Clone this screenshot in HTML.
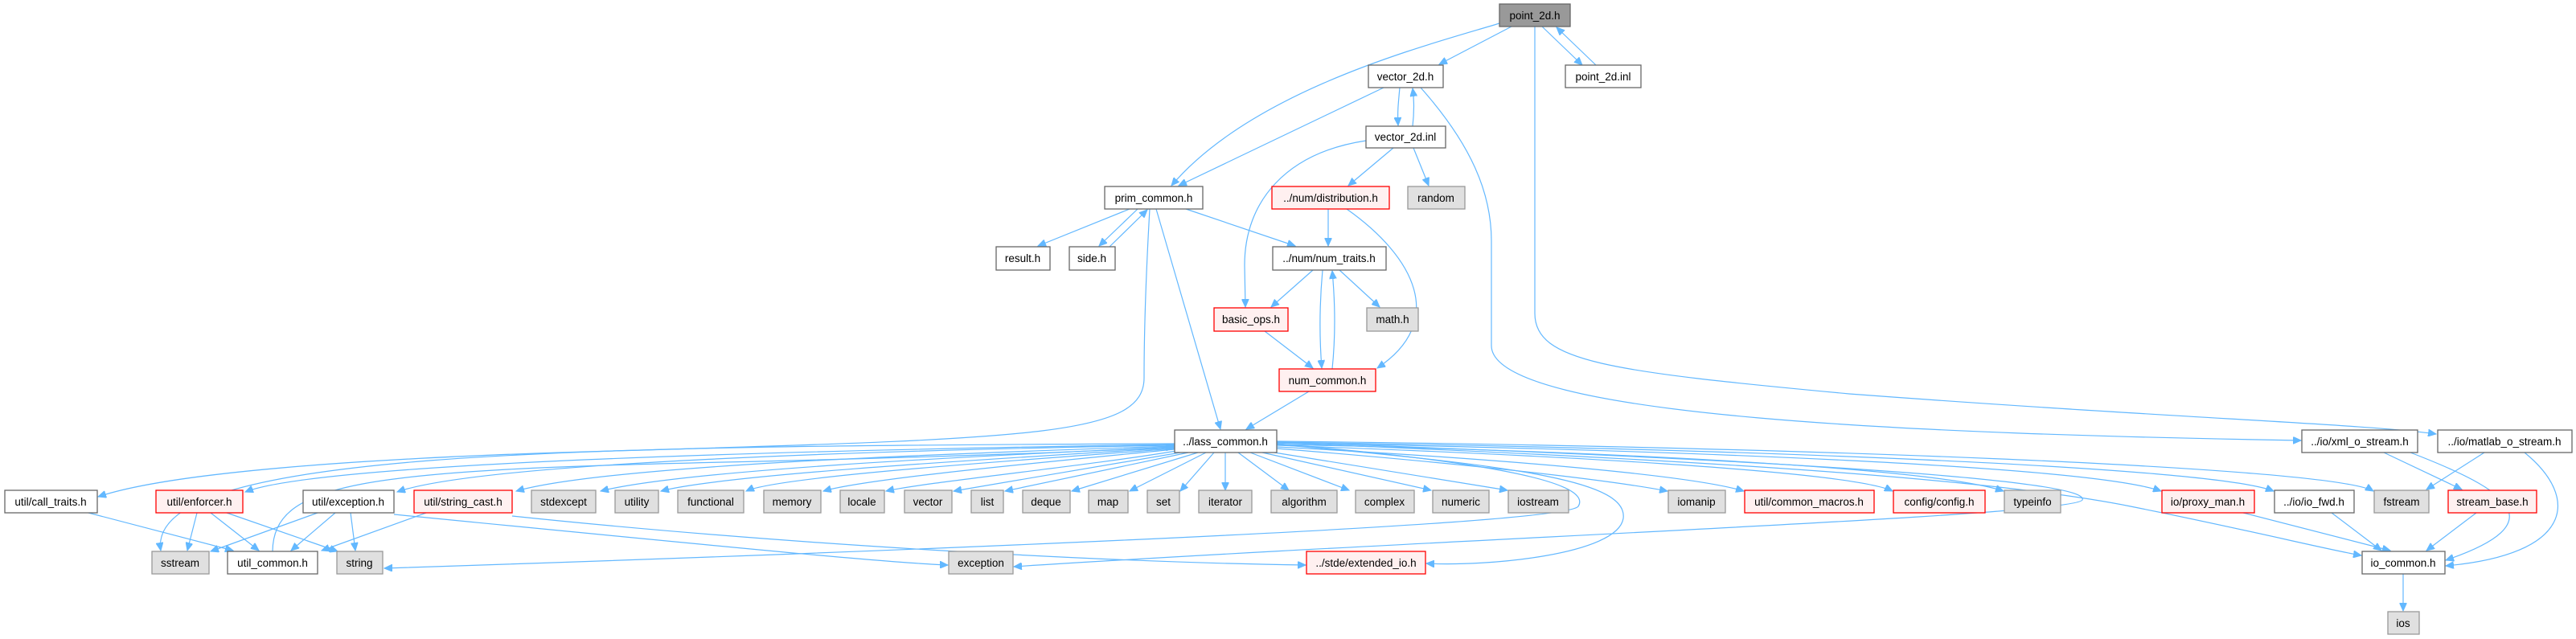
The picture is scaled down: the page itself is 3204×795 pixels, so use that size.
<!DOCTYPE html>
<html><head><meta charset="utf-8"><style>
html,body{margin:0;padding:0;background:#fff;}
svg{display:block;}
text{font-family:"Liberation Sans",sans-serif;font-size:13.5px;fill:#000;text-anchor:middle;}
.w{fill:#fff;stroke:#666;stroke-width:1.3;}
.g{fill:#e0e0e0;stroke:#999;stroke-width:1.3;}
.r{fill:#fff0f0;stroke:#f00;stroke-width:1.3;}
.root{fill:#999;stroke:#666;stroke-width:1.3;}
path{fill:none;stroke:#63b8ff;stroke-width:1.2;marker-end:url(#a);}
</style></head><body>
<svg width="3204" height="795" viewBox="0 0 3204 795" xmlns="http://www.w3.org/2000/svg">
<defs><marker id="a" markerUnits="userSpaceOnUse" markerWidth="11" markerHeight="9" refX="10" refY="4.5" orient="auto"><path d="M0,0 L10,4.5 L0,9 z" style="fill:#63b8ff;stroke:#63b8ff;stroke-width:1;marker-end:none"/></marker></defs>

<!-- edges -->
<path d="M1880,33 L1790,80"/>
<path d="M1918,33 L1968,81"/>
<path d="M1985,81 L1936,34"/>
<path d="M1865,29 C1780,55 1560,110 1457,231"/>
<path d="M1721,109 L1466,231"/>
<path d="M1741,109 C1739,130 1738,140 1739,156"/>
<path d="M1757,157 C1759,140 1759,125 1757,110"/>
<path d="M1767,109 C1830,180 1855,240 1855,300 L1855,430 C1855,520 2400,540 2862,548"/>
<path d="M1909,33 L1909,390 C1909,450 2000,462 2300,490 C2700,520 2950,528 3030,540"/>
<path d="M1733,184 L1677,231"/>
<path d="M1758,184 L1777,231"/>
<path d="M1699,175 C1600,190 1548,250 1548,330 L1549,382"/>
<path d="M1405,260 L1291,306"/>
<path d="M1415,260 L1367,306"/>
<path d="M1380,307 L1427,261"/>
<path d="M1475,260 L1611,306"/>
<path d="M1438,260 L1518,534"/>
<path d="M1430,260 C1426,330 1423,400 1423,470 C1423,540 1300,545 800,560 C400,570 200,592 122,618"/>
<path d="M1652,260 L1652,306"/>
<path d="M1675,260 C1760,320 1800,400 1713,458"/>
<path d="M1633,336 L1581,382"/>
<path d="M1666,336 L1716,382"/>
<path d="M1645,336 C1641,380 1641,420 1644,458"/>
<path d="M1657,459 C1661,420 1661,380 1657,337"/>
<path d="M1573,412 L1633,458"/>
<path d="M1628,487 L1550,534"/>

<!-- lass_common fan -->
<path d="M1461,553 C1000,560 400,575 305,612"/>
<path d="M1461,554 C1100,560 600,575 494,612"/>
<path d="M1461,555 C1150,565 750,580 642,611"/>
<path d="M1461,556 C1200,568 850,585 747,611"/>
<path d="M1461,557 C1250,570 900,590 822,611"/>
<path d="M1461,558 C1280,572 970,592 928,611"/>
<path d="M1461,559 C1300,575 1080,595 1024,611"/>
<path d="M1463,561 C1350,580 1150,600 1102,611"/>
<path d="M1468,563 L1186,611"/>
<path d="M1478,563 L1250,611"/>
<path d="M1490,563 L1333,611"/>
<path d="M1500,563 L1405,611"/>
<path d="M1510,563 L1468,611"/>
<path d="M1524,563 L1524,610"/>
<path d="M1540,563 L1603,610"/>
<path d="M1555,563 L1678,610"/>
<path d="M1570,563 L1780,610"/>
<path d="M1585,563 L1875,610"/>
<path d="M1588,558 C1800,575 1990,595 2074,611"/>
<path d="M1588,556 C1850,570 2100,590 2169,611"/>
<path d="M1588,554 C1900,565 2300,585 2354,611"/>
<path d="M1588,553 C1950,560 2400,580 2492,611"/>
<path d="M1588,551 C2100,560 2600,580 2688,611"/>
<path d="M1588,550 C2150,558 2750,580 2828,611"/>
<path d="M1588,549 C2200,555 2900,580 2952,611"/>
<path d="M1461,552 C700,555 180,560 200,685"/>
<path d="M339,686 C340,600 450,585 900,575 C1200,568 1400,560 1460,556"/>
<path d="M1588,552 C1800,570 1985,595 1963,630 C1945,655 1000,690 478,707"/>
<path d="M1588,550 C2300,575 2600,600 2590,622 C2578,642 1800,670 1261,705"/>
<path d="M1588,553 C1900,580 2025,600 2019,645 C2012,690 1850,705 1774,701"/>
<path d="M1588,551 C2200,575 2500,600 2650,630 C2800,660 2900,685 2937,691"/>

<!-- lower -->
<path d="M490,640 C900,680 1100,700 1179,703"/>
<path d="M637,642 C1000,680 1400,700 1624,703"/>
<path d="M110,638 L290,685"/>
<path d="M245,638 L233,685"/>
<path d="M262,638 L322,685"/>
<path d="M282,638 L420,686"/>
<path d="M395,638 L262,686"/>
<path d="M417,638 L362,685"/>
<path d="M436,638 L442,685"/>
<path d="M530,638 L400,685"/>
<path d="M2790,638 L2973,685"/>
<path d="M2900,638 L2962,685"/>
<path d="M3080,638 L3018,685"/>
<path d="M2989,714 L2989,760"/>
<path d="M2965,563 L3062,609"/>
<path d="M2998,563 C3120,610 3180,650 3042,697"/>
<path d="M3090,563 L3018,609"/>
<path d="M3140,563 C3210,620 3200,690 3042,704"/>

<!-- nodes -->
<rect class="root" x="1865" y="5" width="88" height="28"/><text x="1909" y="24">point_2d.h</text>
<rect class="w" x="1702" y="81" width="93" height="28"/><text x="1748" y="100">vector_2d.h</text>
<rect class="w" x="1947" y="81" width="94" height="28"/><text x="1994" y="100">point_2d.inl</text>
<rect class="w" x="1699" y="157" width="99" height="27"/><text x="1748" y="175">vector_2d.inl</text>
<rect class="w" x="1374" y="232" width="122" height="28"/><text x="1435" y="251">prim_common.h</text>
<rect class="r" x="1582" y="232" width="146" height="28"/><text x="1655" y="251">../num/distribution.h</text>
<rect class="g" x="1751" y="232" width="71" height="28"/><text x="1786" y="251">random</text>
<rect class="w" x="1239" y="307" width="67" height="29"/><text x="1272" y="326">result.h</text>
<rect class="w" x="1330" y="307" width="57" height="29"/><text x="1358" y="326">side.h</text>
<rect class="w" x="1583" y="307" width="141" height="29"/><text x="1653" y="326">../num/num_traits.h</text>
<rect class="r" x="1510" y="383" width="92" height="29"/><text x="1556" y="402">basic_ops.h</text>
<rect class="g" x="1700" y="383" width="64" height="29"/><text x="1732" y="402">math.h</text>
<rect class="r" x="1591" y="459" width="120" height="28"/><text x="1651" y="478">num_common.h</text>
<rect class="w" x="1461" y="535" width="127" height="28"/><text x="1524" y="554">../lass_common.h</text>
<rect class="w" x="2863" y="535" width="144" height="28"/><text x="2935" y="554">../io/xml_o_stream.h</text>
<rect class="w" x="3032" y="535" width="167" height="28"/><text x="3115" y="554">../io/matlab_o_stream.h</text>

<rect class="w" x="6" y="610" width="115" height="28"/><text x="63" y="629">util/call_traits.h</text>
<rect class="r" x="194" y="610" width="108" height="28"/><text x="248" y="629">util/enforcer.h</text>
<rect class="w" x="377" y="610" width="113" height="28"/><text x="433" y="629">util/exception.h</text>
<rect class="r" x="515" y="610" width="122" height="28"/><text x="576" y="629">util/string_cast.h</text>
<rect class="g" x="661" y="610" width="80" height="28"/><text x="701" y="629">stdexcept</text>
<rect class="g" x="765" y="610" width="54" height="28"/><text x="792" y="629">utility</text>
<rect class="g" x="843" y="610" width="82" height="28"/><text x="884" y="629">functional</text>
<rect class="g" x="950" y="610" width="71" height="28"/><text x="985" y="629">memory</text>
<rect class="g" x="1045" y="610" width="55" height="28"/><text x="1072" y="629">locale</text>
<rect class="g" x="1125" y="610" width="59" height="28"/><text x="1154" y="629">vector</text>
<rect class="g" x="1208" y="610" width="40" height="28"/><text x="1228" y="629">list</text>
<rect class="g" x="1272" y="610" width="59" height="28"/><text x="1301" y="629">deque</text>
<rect class="g" x="1354" y="610" width="49" height="28"/><text x="1378" y="629">map</text>
<rect class="g" x="1427" y="610" width="40" height="28"/><text x="1447" y="629">set</text>
<rect class="g" x="1491" y="610" width="66" height="28"/><text x="1524" y="629">iterator</text>
<rect class="g" x="1581" y="610" width="82" height="28"/><text x="1622" y="629">algorithm</text>
<rect class="g" x="1686" y="610" width="73" height="28"/><text x="1722" y="629">complex</text>
<rect class="g" x="1782" y="610" width="70" height="28"/><text x="1817" y="629">numeric</text>
<rect class="g" x="1876" y="610" width="75" height="28"/><text x="1913" y="629">iostream</text>
<rect class="g" x="2075" y="610" width="71" height="28"/><text x="2110" y="629">iomanip</text>
<rect class="r" x="2170" y="610" width="161" height="28"/><text x="2250" y="629">util/common_macros.h</text>
<rect class="r" x="2355" y="610" width="114" height="28"/><text x="2412" y="629">config/config.h</text>
<rect class="g" x="2493" y="610" width="70" height="28"/><text x="2528" y="629">typeinfo</text>
<rect class="r" x="2689" y="610" width="115" height="28"/><text x="2746" y="629">io/proxy_man.h</text>
<rect class="w" x="2829" y="610" width="99" height="28"/><text x="2878" y="629">../io/io_fwd.h</text>
<rect class="g" x="2953" y="610" width="68" height="28"/><text x="2987" y="629">fstream</text>
<rect class="r" x="3045" y="610" width="110" height="28"/><text x="3100" y="629">stream_base.h</text>

<rect class="g" x="189" y="686" width="71" height="28"/><text x="224" y="705">sstream</text>
<rect class="w" x="283" y="686" width="112" height="28"/><text x="339" y="705">util_common.h</text>
<rect class="g" x="419" y="686" width="57" height="28"/><text x="447" y="705">string</text>
<rect class="g" x="1180" y="686" width="80" height="28"/><text x="1220" y="705">exception</text>
<rect class="r" x="1625" y="686" width="148" height="28"/><text x="1699" y="705">../stde/extended_io.h</text>
<rect class="w" x="2938" y="686" width="103" height="28"/><text x="2989" y="705">io_common.h</text>
<rect class="g" x="2970" y="761" width="39" height="28"/><text x="2989" y="780">ios</text>
</svg>
</body></html>
